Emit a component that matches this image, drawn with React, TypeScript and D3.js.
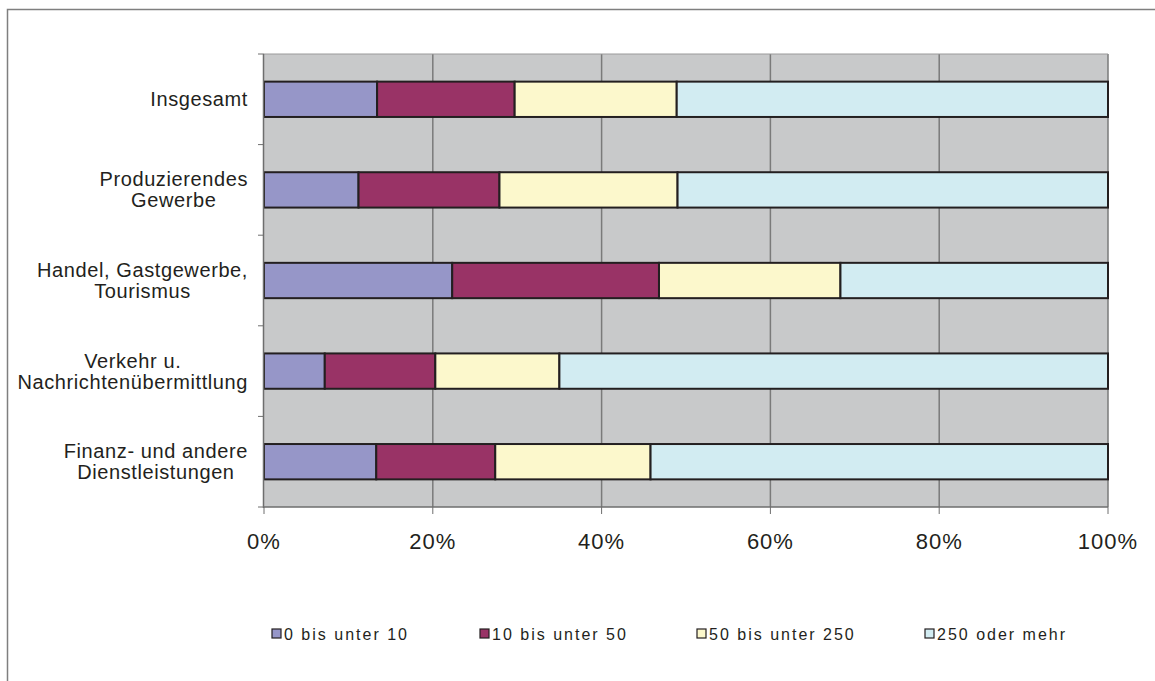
import React from "react";
import * as d3 from "d3";

const categories = [
  ["Insgesamt"],
  ["Produzierendes", "Gewerbe"],
  ["Handel, Gastgewerbe,", "Tourismus"],
  ["Verkehr u.", "Nachrichtenübermittlung"],
  ["Finanz- und andere", "Dienstleistungen"],
];
const seriesNames = ["0 bis unter 10", "10 bis unter 50", "50 bis unter 250", "250 oder mehr"];
const s0 = [13.4, 11.2, 22.3, 7.2, 13.3];
const s1 = [16.3, 16.7, 24.5, 13.1, 14.1];
const s2 = [19.2, 21.1, 21.5, 14.7, 18.4];
const s3 = [51.1, 51.0, 31.7, 65.0, 54.2];
const xTicks = [0, 20, 40, 60, 80, 100];
const colors = ["#9696c8", "#993366", "#fcf8cc", "#d2ecf2"];

const W = 1155, H = 681;
const L = 264, R = 1108, T = 54, B = 507;
const FONT = "Liberation Sans, Arial, sans-serif";
const CAT_SIZE = 20;
const CAT_LS = 0.6;

function measure(s: string) {
  const c = document.createElement("canvas").getContext("2d");
  if (!c) return s.length * CAT_SIZE * 0.5;
  c.font = `${CAT_SIZE}px ${FONT}`;
  return c.measureText(s).width + s.length * CAT_LS;
}

export default function App() {
  const x = d3.scaleLinear().domain([0, 100]).range([L, R]);
  const y = d3.scaleBand<number>().domain(d3.range(categories.length)).range([T, B]).paddingInner(0.61).paddingOuter(0.305);
  const series = [s0, s1, s2, s3];
  const rows = categories.map((_, i) => {
    const o: any = { i };
    series.forEach((s, k) => (o["k" + k] = s[i]));
    return o;
  });
  const stack = d3.stack().keys(series.map((_, k) => "k" + k))(rows);
  const step = (B - T) / categories.length;
  const legendX = [272, 480, 697, 925];
  return (
    <svg width={W} height={H} style={{ position: "absolute", left: 0, top: 0 }} fontFamily={FONT}>
      <rect x={0} y={0} width={W} height={H} fill="#fff" />
      <rect x={7.5} y={9.5} width={W + 10} height={H + 10} fill="none" stroke="#7f7f7f" strokeWidth={1.5} />
      <rect x={L} y={T} width={R - L} height={B - T} fill="#c8c9ca" />
      {xTicks.slice(1).map((t) => (
        <line key={t} x1={x(t)} x2={x(t)} y1={T} y2={B} stroke="#7a7a7a" strokeWidth={1.5} />
      ))}
      <line x1={L} x2={R} y1={T} y2={T} stroke="#9a9a9a" strokeWidth={1} />
      {stack.map((layer, k) =>
        layer.map((d, i) => (
          <rect key={k + "-" + i} x={x(d[0])} y={y(i)} width={x(d[1]) - x(d[0])} height={y.bandwidth()}
            fill={colors[k]} stroke="#231f20" strokeWidth={2} />
        ))
      )}
      <line x1={L - 0.5} x2={L - 0.5} y1={T} y2={B + 1} stroke="#6e6e6e" strokeWidth={1.5} />
      {d3.range(categories.length + 1).map((i) => (
        <line key={i} x1={L - 6} x2={L} y1={T + i * step} y2={T + i * step} stroke="#6e6e6e" strokeWidth={1} />
      ))}
      <line x1={L} x2={R} y1={B} y2={B} stroke="#6e6e6e" strokeWidth={1.5} />
      {xTicks.map((t) => (
        <g key={t}>
          <line x1={x(t)} x2={x(t)} y1={B} y2={B + 7} stroke="#6e6e6e" strokeWidth={1} />
          <text x={x(t)} y={549} textAnchor="middle" fontSize={22} letterSpacing={1} fill="#231f20">{t}%</text>
        </g>
      ))}
      {categories.map((lines, i) => {
        const cy = (y(i) as number) + y.bandwidth() / 2;
        const lh = 21;
        const maxW = Math.max(...lines.map(measure));
        const cx = 248 - maxW / 2;
        return (
          <text key={i} textAnchor="middle" fontSize={CAT_SIZE} letterSpacing={CAT_LS} fill="#231f20">
            {lines.map((ln, j) => (
              <tspan key={j} x={cx} y={cy - ((lines.length - 1) * lh) / 2 + j * lh + 7}>{ln}</tspan>
            ))}
          </text>
        );
      })}
      {seriesNames.map((n, k) => (
        <g key={n}>
          <rect x={legendX[k]} y={629} width={9} height={9} fill={colors[k]} stroke="#231f20" strokeWidth={1.2} />
          <text x={legendX[k] + 12} y={640} fontSize={16} letterSpacing={2} fill="#231f20">{n}</text>
        </g>
      ))}
    </svg>
  );
}
